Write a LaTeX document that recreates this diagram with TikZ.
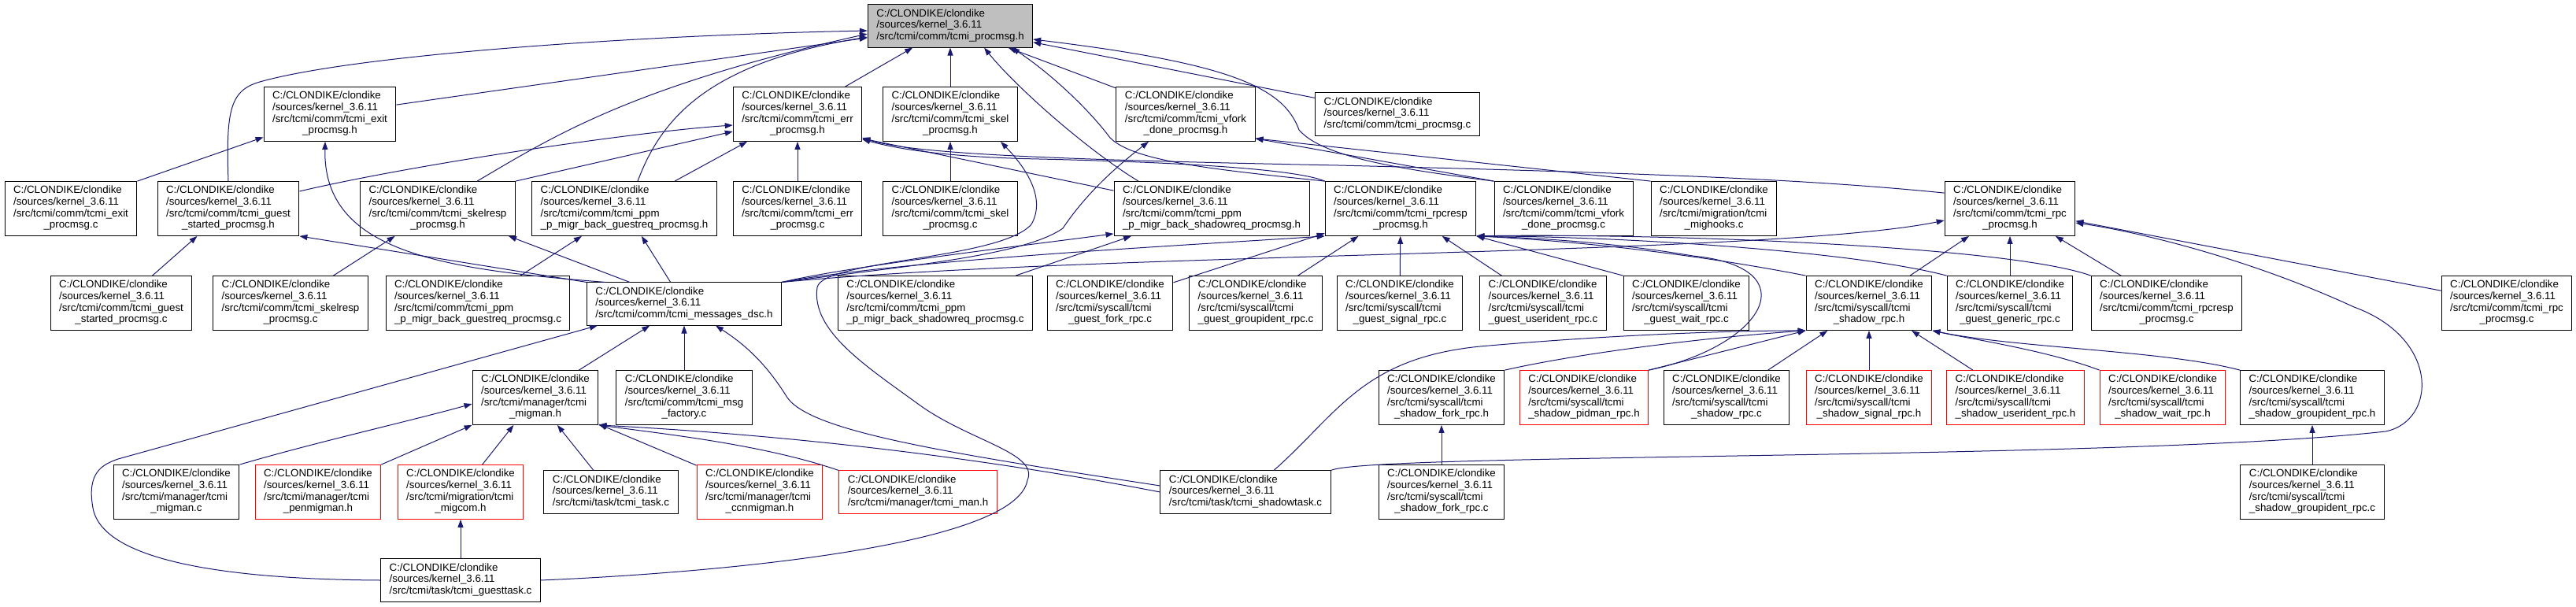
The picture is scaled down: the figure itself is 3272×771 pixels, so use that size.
\documentclass[tikz,border=0pt]{standalone}
\usepackage{fontspec}
\setmainfont{Liberation Sans}
\usetikzlibrary{arrows.meta}

\definecolor{inclblue}{HTML}{191970}
\definecolor{topgray}{HTML}{BFBFBF}

% four-line file label, last line centred
\newcommand{\fpath}[2]{\begin{tabular}{@{}l@{}}C:/CLONDIKE/clondike\\/sources/kernel\_3.6.11\\#1\\\multicolumn{1}{@{}c@{}}{#2}\end{tabular}}
% three-line file label
\newcommand{\fpathc}[1]{\begin{tabular}{@{}l@{}}C:/CLONDIKE/clondike\\/sources/kernel\_3.6.11\\#1\end{tabular}}

\begin{document}
\begin{tikzpicture}[x=1pt, y=-1pt,
  filebox/.style={draw=black, line width=1pt, fill=white, inner xsep=11pt, inner ysep=5pt,
    font=\fontsize{13.33}{14.7}\selectfont},
  redbox/.style={filebox, draw=red},
  topbox/.style={filebox, fill=topgray},
  incl/.style={draw=inclblue, line width=1pt, -{Triangle[length=10pt,width=7pt]}}]

  \useasboundingbox (0,0) rectangle (3272,771);

  % -- Root --
  \node[topbox] (top) at (1207,33) {\fpathc{/src/tcmi/comm/tcmi\_procmsg.h}};

  % -- Row 1 --
  \node[filebox] (exith) at (419,145) {\fpath{/src/tcmi/comm/tcmi\_exit}{\_procmsg.h}};
  \node[filebox] (errh) at (1013,145) {\fpath{/src/tcmi/comm/tcmi\_err}{\_procmsg.h}};
  \node[filebox] (skelh) at (1207,145) {\fpath{/src/tcmi/comm/tcmi\_skel}{\_procmsg.h}};
  \node[filebox] (vforkh) at (1506,145) {\fpath{/src/tcmi/comm/tcmi\_vfork}{\_done\_procmsg.h}};
  \node[filebox] (procmsgc) at (1775,145) {\fpathc{/src/tcmi/comm/tcmi\_procmsg.c}};

  % -- Row 2 --
  \node[filebox] (exitc) at (90,265) {\fpath{/src/tcmi/comm/tcmi\_exit}{\_procmsg.c}};
  \node[filebox] (guesth) at (290,265) {\fpath{/src/tcmi/comm/tcmi\_guest}{\_started\_procmsg.h}};
  \node[filebox] (skelresph) at (556,265) {\fpath{/src/tcmi/comm/tcmi\_skelresp}{\_procmsg.h}};
  \node[filebox] (guestreqh) at (793,265) {\fpath{/src/tcmi/comm/tcmi\_ppm}{\_p\_migr\_back\_guestreq\_procmsg.h}};
  \node[filebox] (errc) at (1013,265) {\fpath{/src/tcmi/comm/tcmi\_err}{\_procmsg.c}};
  \node[filebox] (skelc) at (1207,265) {\fpath{/src/tcmi/comm/tcmi\_skel}{\_procmsg.c}};
  \node[filebox] (shadowreqh) at (1539,265) {\fpath{/src/tcmi/comm/tcmi\_ppm}{\_p\_migr\_back\_shadowreq\_procmsg.h}};
  \node[filebox] (rpcresph) at (1779,265) {\fpath{/src/tcmi/comm/tcmi\_rpcresp}{\_procmsg.h}};
  \node[filebox] (vforkc) at (1986,265) {\fpath{/src/tcmi/comm/tcmi\_vfork}{\_done\_procmsg.c}};
  \node[filebox] (mighooks) at (2177,265) {\fpath{/src/tcmi/migration/tcmi}{\_mighooks.c}};
  \node[filebox] (rpch) at (2553,265) {\fpath{/src/tcmi/comm/tcmi\_rpc}{\_procmsg.h}};

  % -- Row 3 --
  \node[filebox] (guestc) at (154,385) {\fpath{/src/tcmi/comm/tcmi\_guest}{\_started\_procmsg.c}};
  \node[filebox] (skelrespc) at (369,385) {\fpath{/src/tcmi/comm/tcmi\_skelresp}{\_procmsg.c}};
  \node[filebox] (guestreqc) at (607,385) {\fpath{/src/tcmi/comm/tcmi\_ppm}{\_p\_migr\_back\_guestreq\_procmsg.c}};
  \node[filebox] (msgdsc) at (869,386) {\fpathc{/src/tcmi/comm/tcmi\_messages\_dsc.h}};
  \node[filebox] (shadowreqc) at (1188,385) {\fpath{/src/tcmi/comm/tcmi\_ppm}{\_p\_migr\_back\_shadowreq\_procmsg.c}};
  \node[filebox] (guestfork) at (1410,385) {\fpath{/src/tcmi/syscall/tcmi}{\_guest\_fork\_rpc.c}};
  \node[filebox] (guestgroup) at (1595,385) {\fpath{/src/tcmi/syscall/tcmi}{\_guest\_groupident\_rpc.c}};
  \node[filebox] (guestsignal) at (1778,385) {\fpath{/src/tcmi/syscall/tcmi}{\_guest\_signal\_rpc.c}};
  \node[filebox] (guestuser) at (1960,385) {\fpath{/src/tcmi/syscall/tcmi}{\_guest\_userident\_rpc.c}};
  \node[filebox] (guestwait) at (2142,385) {\fpath{/src/tcmi/syscall/tcmi}{\_guest\_wait\_rpc.c}};
  \node[filebox] (shadowrpch) at (2374,385) {\fpath{/src/tcmi/syscall/tcmi}{\_shadow\_rpc.h}};
  \node[filebox] (guestgeneric) at (2553,385) {\fpath{/src/tcmi/syscall/tcmi}{\_guest\_generic\_rpc.c}};
  \node[filebox] (rpcrespc) at (2752,385) {\fpath{/src/tcmi/comm/tcmi\_rpcresp}{\_procmsg.c}};
  \node[filebox] (rpcc) at (3184,385) {\fpath{/src/tcmi/comm/tcmi\_rpc}{\_procmsg.c}};

  % -- Row 4 --
  \node[filebox] (migmanh) at (680,505) {\fpath{/src/tcmi/manager/tcmi}{\_migman.h}};
  \node[filebox] (msgfactory) at (869,505) {\fpath{/src/tcmi/comm/tcmi\_msg}{\_factory.c}};
  \node[filebox] (shadowforkh) at (1831,505) {\fpath{/src/tcmi/syscall/tcmi}{\_shadow\_fork\_rpc.h}};
  \node[redbox] (pidman) at (2012,505) {\fpath{/src/tcmi/syscall/tcmi}{\_shadow\_pidman\_rpc.h}};
  \node[filebox] (shadowrpcc) at (2193,505) {\fpath{/src/tcmi/syscall/tcmi}{\_shadow\_rpc.c}};
  \node[redbox] (shadowsignal) at (2374,505) {\fpath{/src/tcmi/syscall/tcmi}{\_shadow\_signal\_rpc.h}};
  \node[redbox] (shadowuser) at (2560,505) {\fpath{/src/tcmi/syscall/tcmi}{\_shadow\_userident\_rpc.h}};
  \node[redbox] (shadowwait) at (2747,505) {\fpath{/src/tcmi/syscall/tcmi}{\_shadow\_wait\_rpc.h}};
  \node[filebox] (shadowgrouph) at (2937,505) {\fpath{/src/tcmi/syscall/tcmi}{\_shadow\_groupident\_rpc.h}};

  % -- Row 5 --
  \node[filebox] (migmanc) at (224,625) {\fpath{/src/tcmi/manager/tcmi}{\_migman.c}};
  \node[redbox] (penmigman) at (404,625) {\fpath{/src/tcmi/manager/tcmi}{\_penmigman.h}};
  \node[redbox] (migcom) at (585,625) {\fpath{/src/tcmi/migration/tcmi}{\_migcom.h}};
  \node[filebox] (taskc) at (776,625) {\fpathc{/src/tcmi/task/tcmi\_task.c}};
  \node[redbox] (ccnmigman) at (965,625) {\fpath{/src/tcmi/manager/tcmi}{\_ccnmigman.h}};
  \node[redbox] (man) at (1166,625) {\fpathc{/src/tcmi/manager/tcmi\_man.h}};
  \node[filebox] (shadowtask) at (1582,625) {\fpathc{/src/tcmi/task/tcmi\_shadowtask.c}};
  \node[filebox] (shadowforkc) at (1831,625) {\fpath{/src/tcmi/syscall/tcmi}{\_shadow\_fork\_rpc.c}};
  \node[filebox] (shadowgroupc) at (2937,625) {\fpath{/src/tcmi/syscall/tcmi}{\_shadow\_groupident\_rpc.c}};

  % -- Row 6 --
  \node[filebox] (guesttask) at (585,737) {\fpathc{/src/tcmi/task/tcmi\_guesttask.c}};

  % -- Includes of tcmi_procmsg.h --
  \draw[incl] (exith) -- (top);
  \draw[incl] (guesth.north) .. controls (287,140) and (292,115) .. (330,104) .. controls (450,70) and (800,45) .. ([yshift=-6pt]top.west);
  \draw[incl] ([xshift=50pt]skelresph.north) .. controls (700,175) and (800,110) .. ([yshift=-10pt]top.west);
  \draw[incl] ([xshift=17pt]guestreqh.north) .. controls (840,150) and (900,80) .. ([yshift=-14pt]top.west);
  \draw[incl] (errh) -- (top);
  \draw[incl] (skelh) -- (top);
  \draw[incl] ([xshift=-93pt]shadowreqh.north) .. controls (1380,190) and (1290,110) .. ([xshift=43pt]top.south);
  \draw[incl] (vforkh) -- (top);
  \draw[incl] (rpcresph.north west) .. controls (1540,215) and (1440,205) .. (1410,175) .. controls (1380,135) and (1330,90) .. ([xshift=78pt]top.south);
  \draw[incl] (procmsgc) -- (top);
  \draw[incl] (vforkc.north west) .. controls (1780,215) and (1680,200) .. (1650,165) .. controls (1630,110) and (1560,80) .. ([yshift=-17pt]top.east);

  % -- Includes of the row 1 headers --
  \draw[incl] (exitc.north east) -- (exith);
  \draw[incl] ([yshift=22pt]guesth.east) .. controls (520,210) and (800,168) .. ([yshift=-14pt]errh.west);
  \draw[incl] (skelresph.north east) -- ([yshift=-22pt]errh.west);
  \draw[incl] (guestreqh) -- (errh);
  \draw[incl] (errc) -- (errh);
  \draw[incl] ([yshift=-12pt]shadowreqh.north west) -- ([yshift=4pt]errh.south east);
  \draw[incl] (rpcresph.north west) .. controls (1640,212) and (1450,205) .. (1320,202) .. controls (1220,200) and (1150,192) .. ([yshift=3pt]errh.south east);
  \draw[incl] ([yshift=-15pt]rpch.north west) .. controls (2300,228) and (2100,220) .. (1700,210) .. controls (1350,203) and (1160,196) .. ([yshift=5pt]errh.south east);
  \draw[incl] (skelc) -- (skelh);
  \draw[incl] (vforkc.north west) -- ([yshift=4pt]vforkh.south east);
  \draw[incl] (mighooks.north west) -- ([yshift=4pt]vforkh.south east);

  % -- Includes of the row 2 headers --
  \draw[incl] (guestc) -- (guesth);
  \draw[incl] (skelrespc) -- (skelresph);
  \draw[incl] (guestreqc) -- (guestreqh);
  \draw[incl] (shadowreqc) -- (shadowreqh);

  % -- tcmi_messages_dsc.h --
  \draw[incl] ([xshift=-100pt]msgdsc.north) .. controls (560,342) and (410,320) .. ([xshift=-6pt]exith.south);
  \draw[incl] (msgdsc.north west) -- (guesth.south east);
  \draw[incl] ([xshift=-69pt]msgdsc.north) -- ([xshift=90pt]skelresph.south);
  \draw[incl] (msgdsc) -- (guestreqh);
  \draw[incl] (msgdsc.north east) .. controls (1080,338) and (1300,312) .. ([yshift=3pt]shadowreqh.south west);
  \draw[incl] (msgdsc.north east) .. controls (1150,338) and (1300,325) .. (1350,290) .. controls (1380,245) and (1420,210) .. ([xshift=-47pt]vforkh.south);
  \draw[incl] (msgdsc.north east) .. controls (1150,330) and (1500,312) .. (rpcresph.south west);
  \draw[incl] (msgdsc.north east) .. controls (1400,320) and (2250,325) .. ([yshift=-15pt]rpch.west);

  % -- tcmi_rpcresp_procmsg.h --
  \draw[incl] (guestfork) -- (rpcresph);
  \draw[incl] (guestgroup) -- (rpcresph);
  \draw[incl] (guestsignal) -- (rpcresph);
  \draw[incl] (guestuser) -- (rpcresph);
  \draw[incl] (guestwait.north west) -- (rpcresph.south east);
  \draw[incl] (shadowrpch.north west) .. controls (2150,322) and (2000,306) .. (rpcresph.south east);
  \draw[incl] (guestgeneric.north west) .. controls (2350,318) and (2050,300) .. (rpcresph.south east);
  \draw[incl] (rpcrespc.north west) .. controls (2550,312) and (2100,296) .. (rpcresph.south east);
  \draw[incl] (pidman.north east) .. controls (2240,440) and (2300,340) .. (2150,325) .. controls (2050,308) and (1950,302) .. (rpcresph.south east);

  % -- tcmi_rpc_procmsg.h --
  \draw[incl] (shadowrpch) -- (rpch);
  \draw[incl] (guestgeneric) -- (rpch);
  \draw[incl] (rpcrespc) -- (rpch);
  \draw[incl] (rpcc) -- (rpch);
  \draw[incl] (shadowtask.north east) .. controls (1740,575) and (2700,585) .. (3030,548) .. controls (3095,535) and (3100,430) .. (2990,390) .. controls (2860,330) and (2720,295) .. ([yshift=-18pt]rpch.east);

  % -- tcmi_shadow_rpc.h --
  \draw[incl] (shadowforkh.north east) .. controls (2000,450) and (2150,430) .. (shadowrpch.south west);
  \draw[incl] (pidman.north east) -- (shadowrpch.south west);
  \draw[incl] (shadowrpcc) -- (shadowrpch);
  \draw[incl] (shadowsignal) -- (shadowrpch);
  \draw[incl] (shadowuser) -- (shadowrpch);
  \draw[incl] (shadowwait.north west) .. controls (2600,445) and (2500,430) .. (shadowrpch.south east);
  \draw[incl] (shadowgrouph.north west) .. controls (2750,445) and (2560,442) .. (shadowrpch.south east);
  \draw[incl] ([xshift=36pt]shadowtask.north) .. controls (1700,525) and (1730,455) .. (1880,440) .. controls (2050,425) and (2200,420) .. (shadowrpch.south west);
  \draw[incl] (shadowforkc) -- (shadowforkh);
  \draw[incl] (shadowgroupc) -- (shadowgrouph);

  % -- Manager and task files --
  \draw[incl] (migmanh) -- (msgdsc);
  \draw[incl] (msgfactory) -- (msgdsc);
  \draw[incl] ([yshift=8pt]shadowtask.west) .. controls (1200,575) and (1030,548) .. (1000,505) .. controls (975,465) and (950,440) .. ([xshift=40pt]msgdsc.south);
  \draw[incl] (guesttask.west) .. controls (300,736) and (130,715) .. (118,645) .. controls (110,600) and (130,590) .. (150,583) -- ([xshift=14pt]msgdsc.south west);
  \draw[incl] (migmanc.north east) .. controls (400,562) and (520,535) .. ([yshift=-8pt]migmanh.west);
  \draw[incl] (penmigman) -- (migmanh);
  \draw[incl] (migcom) -- (migmanh);
  \draw[incl] (taskc) -- (migmanh);
  \draw[incl] (ccnmigman) -- (migmanh);
  \draw[incl] (man.north west) .. controls (970,565) and (850,552) .. (migmanh.south east);
  \draw[incl] (shadowtask.west) .. controls (1200,572) and (950,550) .. (migmanh.south east);
  \draw[incl] (guesttask) -- (migcom);
  \draw[incl] (guesttask.east) .. controls (900,728) and (1290,695) .. (1305,610) .. controls (1320,575) and (1230,560) .. (1166,513) .. controls (1100,465) and (1030,420) .. (1038,365) .. controls (1045,330) and (1270,330) .. (1310,285) .. controls (1330,250) and (1300,210) .. ([xshift=64pt]skelh.south);

\end{tikzpicture}
\end{document}
